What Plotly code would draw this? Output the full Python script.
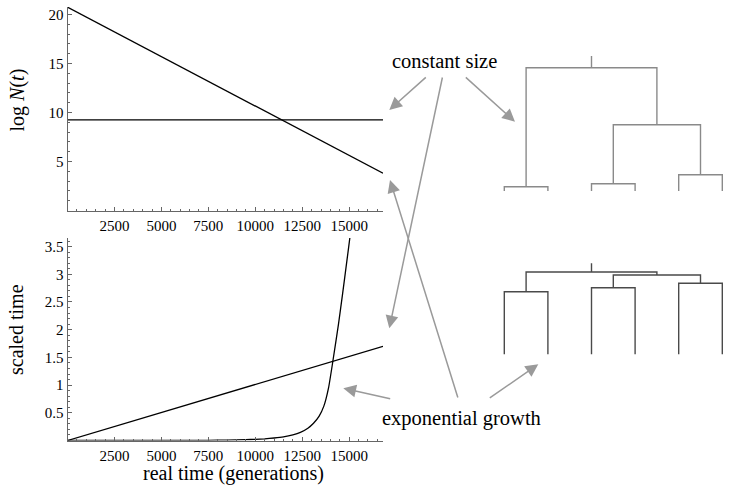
import plotly.graph_objects as go

# ---------------- data ----------------
real_time = [0, 16800]
log_n_constant = [9.25, 9.25]
log_n_exponential = [20.75, 3.8]
scaled_constant = [0, 1.7]

exp_real_time = [0, 2500, 5000, 7500, 8500, 9500, 10000, 10500, 11000, 11500, 12000, 12400,
                 12800, 13100, 13400, 13650, 13900, 14130, 14430, 14650, 14880, 15050, 15150]
exp_scaled_time = [0, 0.0003, 0.001, 0.004, 0.008, 0.015, 0.021, 0.03, 0.045, 0.065, 0.1, 0.145,
                   0.22, 0.31, 0.44, 0.62, 0.95, 1.43, 2.1, 2.65, 3.25, 3.7, 4.0]

x_tickvals = [2500, 5000, 7500, 10000, 12500, 15000]
x_ticktext = ["2500", "5000", "7500", "10000", "12500", "15000"]
top_y_tickvals = [5, 10, 15, 20]
top_y_ticktext = ["5", "10", "15", "20"]
bot_y_tickvals = [0.5, 1, 1.5, 2, 2.5, 3, 3.5]
bot_y_ticktext = ["0.5", "1", "1.5", "2", "2.5", "3", "3.5"]

# genealogies: six leaves, pairs (1,2),(3,4),(5,6); pairs 2&3 join, then root
tree_leaves = [1, 2, 3, 4, 5, 6]
const_pair_heights = [4.3, 7.3, 16.3]
const_inner_height = 66.3
const_root_height = 123.3
const_stem_top = 135.0
exp_pair_heights = [62.6, 66.6, 71.0]
exp_inner_height = 79.3
exp_root_height = 82.3
exp_stem_top = 91.0

# ---------------- layout helpers ----------------
W, H = 730, 489


def clamp(v):
    return max(0.0, min(1.0, v))


def px(x):
    return clamp(x / W)


def py(y):
    return clamp(1 - y / H)


def tree_xy(leaves, pair_h, inner_h, root_h, stem_top):
    xs, ys = [], []
    mids = []
    for i in range(3):
        a, b = leaves[2 * i], leaves[2 * i + 1]
        h = pair_h[i]
        xs += [a, a, b, b, None]
        ys += [0, h, h, 0, None]
        mids.append((a + b) / 2)
    m23 = (mids[1] + mids[2]) / 2
    xs += [mids[1], mids[1], mids[2], mids[2], None]
    ys += [pair_h[1], inner_h, inner_h, pair_h[2], None]
    mroot = (mids[0] + m23) / 2
    xs += [mids[0], mids[0], m23, m23, None]
    ys += [pair_h[0], root_h, root_h, inner_h, None]
    xs += [mroot, mroot]
    ys += [root_h, stem_top]
    return xs, ys


fig = go.Figure()

LINE = dict(color="black", width=1.3)
fig.add_trace(go.Scatter(x=real_time, y=log_n_exponential, mode="lines", line=LINE,
                         xaxis="x", yaxis="y", showlegend=False))
fig.add_trace(go.Scatter(x=real_time, y=log_n_constant, mode="lines", line=LINE,
                         xaxis="x", yaxis="y", showlegend=False))
fig.add_trace(go.Scatter(x=real_time, y=scaled_constant, mode="lines", line=LINE,
                         xaxis="x2", yaxis="y2", showlegend=False))
fig.add_trace(go.Scatter(x=exp_real_time, y=exp_scaled_time, mode="lines",
                         line=dict(color="black", width=1.3, shape="spline", smoothing=0.5),
                         xaxis="x2", yaxis="y2", showlegend=False))

tx, ty = tree_xy(tree_leaves, const_pair_heights, const_inner_height,
                 const_root_height, const_stem_top)
fig.add_trace(go.Scatter(x=tx, y=ty, mode="lines", line=dict(color="#8a8a8a", width=1.4),
                         xaxis="x3", yaxis="y3", showlegend=False))
tx, ty = tree_xy(tree_leaves, exp_pair_heights, exp_inner_height,
                 exp_root_height, exp_stem_top)
fig.add_trace(go.Scatter(x=tx, y=ty, mode="lines", line=dict(color="#4a4a4a", width=1.4),
                         xaxis="x4", yaxis="y4", showlegend=False))

# plot area pixel anchors
X_L, X_R = 67.5, 383.0
Y1_T, Y1_B = 7.0, 210.5
Y2_T, Y2_B = 238.0, 440.5
TOP_PX_PER_UNIT = 9.8

FONT = "Liberation Serif"
AX_COL = "#666666"
TICKFONT = dict(family=FONT, size=15, color="black")

common_x = dict(showgrid=False, zeroline=False, showline=True, linecolor=AX_COL, linewidth=1,
                ticks="inside", ticklen=4, tickcolor=AX_COL, tickwidth=1,
                range=[0, 16800], tickvals=x_tickvals, ticktext=x_ticktext,
                tickfont=TICKFONT, ticklabelstandoff=1, ticklabeloverflow="allow",
                minor=dict(ticks="inside", ticklen=2, tickcolor=AX_COL, dtick=500, tick0=0),
                domain=[px(X_L), px(X_R)], fixedrange=True)
common_y = dict(showgrid=False, zeroline=False, showline=True, linecolor=AX_COL, linewidth=1,
                ticks="inside", ticklen=4, tickcolor=AX_COL, tickwidth=1,
                tickfont=TICKFONT, ticklabelstandoff=0, ticklabeloverflow="allow",
                fixedrange=True)

# tree axes
LEAF_PX0, LEAF_DX = 504.3, 43.6
TREE1_BASE, TREE2_BASE = 191.0, 354.3
XPAD, YPAD = 0.1, 3.0
tx0 = LEAF_PX0 - XPAD * LEAF_DX
tx1 = LEAF_PX0 + (5 + XPAD) * LEAF_DX
tree_x = dict(visible=False, range=[1 - XPAD, 6 + XPAD], domain=[px(tx0), px(tx1)],
              fixedrange=True)

fig.update_layout(
    width=W, height=H, margin=dict(l=0, r=0, t=0, b=0),
    paper_bgcolor="white", plot_bgcolor="rgba(0,0,0,0)",
    font=dict(family=FONT, color="black"),
    hovermode=False,
    xaxis=dict(common_x, anchor="y"),
    yaxis=dict(common_y, anchor="x", range=[0, (Y1_B - Y1_T) / TOP_PX_PER_UNIT],
               tickvals=top_y_tickvals, ticktext=top_y_ticktext,
               domain=[py(Y1_B), py(Y1_T)],
               minor=dict(ticks="inside", ticklen=2, tickcolor=AX_COL, dtick=1, tick0=0)),
    xaxis2=dict(common_x, anchor="y2"),
    yaxis2=dict(common_y, anchor="x2", range=[0, 3.655], tickvals=bot_y_tickvals,
                ticktext=bot_y_ticktext, domain=[py(Y2_B), py(Y2_T)],
                minor=dict(ticks="inside", ticklen=2, tickcolor=AX_COL, dtick=0.1, tick0=0)),
    xaxis3=dict(tree_x, anchor="y3"),
    yaxis3=dict(visible=False, anchor="x3", range=[-YPAD, const_stem_top + YPAD],
                domain=[py(TREE1_BASE + YPAD), py(TREE1_BASE - const_stem_top - YPAD)],
                fixedrange=True),
    xaxis4=dict(tree_x, anchor="y4"),
    yaxis4=dict(visible=False, anchor="x4", range=[-YPAD, exp_stem_top + YPAD],
                domain=[py(TREE2_BASE + YPAD), py(TREE2_BASE - exp_stem_top - YPAD)],
                fixedrange=True),
)

annotations = []


def label(text, x, y, size, angle=0):
    annotations.append(dict(text=text, x=px(x), y=py(y), xref="paper", yref="paper",
                            xanchor="center", yanchor="middle", showarrow=False,
                            textangle=angle, font=dict(family=FONT, size=size, color="black")))


label("log <i>N</i>(<i>t</i>)", 16.5, 100, 20, -90)
label("scaled time", 16, 330, 20, -90)
label("real time (generations)", 233, 473.3, 20)
label("constant size", 444.7, 60.7, 20.5)
label("exponential growth", 461.7, 418.3, 20.5)


def arrow(head, tail):
    annotations.append(dict(text="", x=px(head[0]), y=py(head[1]), xref="paper", yref="paper",
                            ax=tail[0] - head[0], ay=tail[1] - head[1],
                            showarrow=True, arrowhead=2, arrowsize=1.7, arrowwidth=1.5,
                            arrowcolor="#9a9a9a", standoff=0))


arrow((389.3, 110), (427.3, 76))
arrow((389.3, 328.3), (442.7, 76))
arrow((515, 121.7), (464.3, 76))
arrow((390, 180), (458.3, 399))
arrow((343.3, 388.3), (391.7, 399))
arrow((538.3, 364.3), (488.3, 399))

fig.update_layout(annotations=annotations)
# remove the default 8px page margin so the 730x489 figure fills the window exactly
fig.write_html("out.html", config={"displayModeBar": False, "staticPlot": True},
               post_script="document.body.style.margin='0';document.body.style.padding='0';")
